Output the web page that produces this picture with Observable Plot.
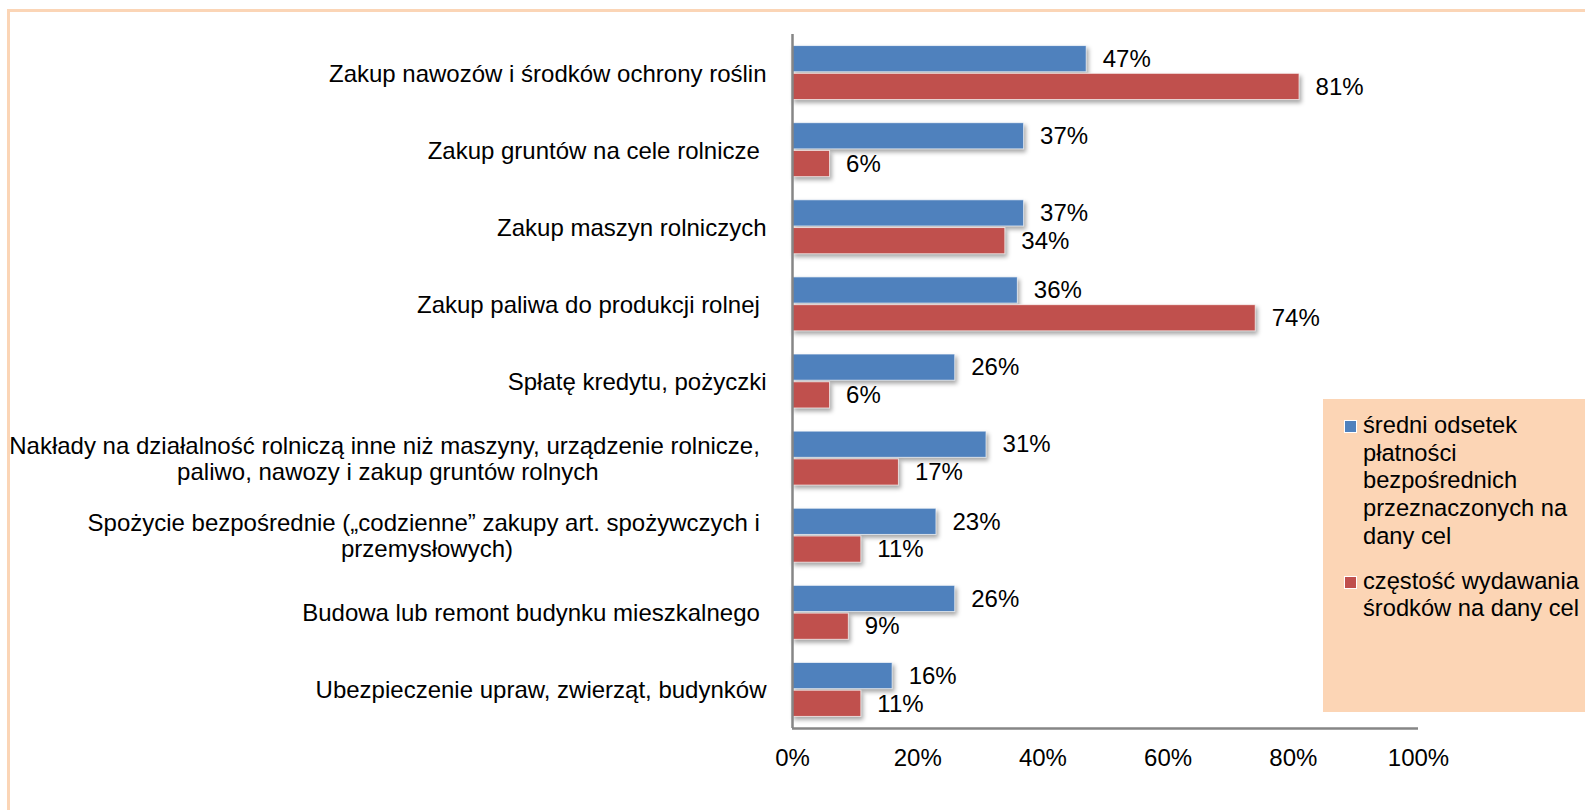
<!DOCTYPE html>
<html>
<head>
<meta charset="utf-8">
<script src="https://cdn.jsdelivr.net/npm/d3@7"></script>
<script src="https://cdn.jsdelivr.net/npm/@observablehq/plot@0.6"></script>
<style>
  html, body { margin: 0; padding: 0; background: #fff; overflow: hidden; }
  #wrap { position: relative; width: 1585px; height: 810px; overflow: hidden; font-family: "Liberation Sans", Arial, sans-serif; }
  #frame { position: absolute; left: 7px; top: 9px; width: 1700px; height: 900px; border: 3px solid #FBD5B6; box-sizing: border-box; pointer-events: none; }
  #chart { position: absolute; left: 0; top: 0; }
  #chart g[aria-label="rect"] rect { filter: drop-shadow(2px 3px 2px rgba(0,0,0,0.35)); }
  #legend { position: absolute; left: 1323px; top: 399px; width: 300px; height: 313px; background: #FCD5B5; }
  .item { position: absolute; left: 40px; font-size: 23.7px; line-height: 27.7px; color: #000; }
  .sw { position: absolute; left: -19px; top: 8px; width: 11px; height: 11px; border: 1px solid #fff; }
</style>
</head>
<body>
<div id="wrap">
  <div id="chart"></div>
  <div id="legend"></div>
  <div id="frame"></div>
</div>
<script>
// ---- data ----
const categories = [
  "Zakup nawozów i środków ochrony roślin",
  "Zakup gruntów na cele rolnicze\u00A0",
  "Zakup maszyn rolniczych",
  "Zakup paliwa do produkcji rolnej\u00A0",
  "Spłatę kredytu, pożyczki",
  "Nakłady na działalność rolniczą inne niż maszyny, urządzenie rolnicze,\u00A0\npaliwo, nawozy i zakup gruntów rolnych",
  "Spożycie bezpośrednie („codzienne” zakupy art. spożywczych i\u00A0\nprzemysłowych)",
  "Budowa lub remont budynku mieszkalnego\u00A0",
  "Ubezpieczenie upraw, zwierząt, budynków"
];
const seriesNames = [
  "średni odsetek płatności bezpośrednich przeznaczonych na dany cel",
  "częstość wydawania środków na dany cel"
];
const legendLines = [
  ["średni odsetek", "płatności", "bezpośrednich", "przeznaczonych na", "dany cel"],
  ["częstość wydawania", "środków na dany cel"]
];
const shareValues = [47, 37, 37, 36, 26, 31, 23, 26, 16];
const frequencyValues = [81, 6, 34, 74, 6, 17, 11, 9, 11];
const seriesColors = ["#4F81BD", "#C0504D"];
const xTicks = [0, 20, 40, 60, 80, 100];

// ---- table ----
const slots = [[0.15, 0.49], [0.51, 0.85]]; // position of each series inside a category band
const rows = [];
categories.forEach((c, i) => {
  [shareValues, frequencyValues].forEach((vals, s) => {
    rows.push({cat: c, series: seriesNames[s], value: vals[i],
      y1: i + slots[s][0], y2: i + slots[s][1], ym: i + (slots[s][0] + slots[s][1]) / 2});
  });
});

// measure label widths for centred multi-line labels
const labelSize = 24;
const ctx = document.createElement("canvas").getContext("2d");
ctx.font = labelSize + 'px "Liberation Sans"';
const labelGap = 26;

const labelMarks = categories.map((c, i) => {
  const w = d3.max(c.split("\n"), l => ctx.measureText(l).width);
  return Plot.text([{label: c, pos: i + 0.5}], {
    y: "pos", text: "label", frameAnchor: "left", textAnchor: "middle",
    dx: -(labelGap + w / 2), lineHeight: 1.1, fontSize: labelSize, fill: "#000"
  });
});

const chart = Plot.plot({
  width: 1585,
  height: 810,
  marginLeft: 792,
  marginRight: 167,
  marginTop: 34,
  marginBottom: 82,
  style: {fontFamily: '"Liberation Sans", Arial, sans-serif', fontSize: "24px", color: "#000", background: "transparent"},
  x: {domain: [0, 100], ticks: xTicks, tickFormat: d => d + "%", tickSize: 0, tickPadding: 20, label: null},
  y: {domain: [0, categories.length], reverse: true, axis: null},
  color: {domain: seriesNames, range: seriesColors},
  marks: [
    Plot.rect(rows, {x1: 0, x2: "value", y1: "y1", y2: "y2", fill: "series", stroke: "#ffffff", strokeOpacity: 0.7, strokeWidth: 1}),
    Plot.text(rows, {x: "value", y: "ym", text: d => d.value + "%", textAnchor: "start", dx: 16, fontSize: 24, fill: "#000"}),
    Plot.ruleX([0], {stroke: "#868686", strokeWidth: 2.5}),
    Plot.ruleY([categories.length], {x1: 0, x2: 100, stroke: "#868686", strokeWidth: 2.5}),
    ...labelMarks
  ]
});
document.getElementById("chart").appendChild(chart);

// ---- legend ----
const legendBox = document.getElementById("legend");
let itemTop = 13;
legendLines.forEach((lines, s) => {
  const item = document.createElement("div");
  item.className = "item";
  item.style.top = itemTop + "px";
  const sw = document.createElement("div");
  sw.className = "sw";
  sw.style.background = seriesColors[s];
  item.appendChild(sw);
  lines.forEach((l, k) => {
    if (k > 0) item.appendChild(document.createElement("br"));
    item.appendChild(document.createTextNode(l));
  });
  legendBox.appendChild(item);
  itemTop += lines.length * 27.7 + 17;
});
</script>
</body>
</html>
